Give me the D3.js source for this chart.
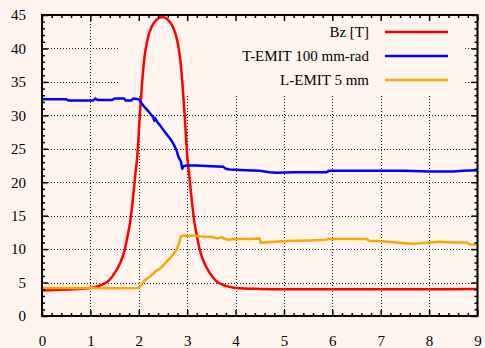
<!DOCTYPE html>
<html>
<head>
<meta charset="utf-8">
<script src="https://cdn.jsdelivr.net/npm/d3@7"></script>
<style>
  body { margin: 0; background: #fff5ee; }
  text { font-family: "Liberation Serif", "Times New Roman", Times, "DejaVu Serif", serif; }
</style>
</head>
<body>
<div id="chart"></div>
<script>
// data
const xTicks = [0, 1, 2, 3, 4, 5, 6, 7, 8, 9];
const yTicks = [0, 5, 10, 15, 20, 25, 30, 35, 40, 45];
const seriesNames = ["Bz [T]", "T-EMIT 100 mm-rad", "L-EMIT 5 mm"];
const seriesColors = ["#ff0000", "#0000ff", "#ffa500"];

const bzX = [0, 0.5, 0.97, 1.17, 1.37, 1.5, 1.62, 1.71, 1.77, 1.82, 1.87, 1.92, 1.97, 2.02, 2.07, 2.12, 2.17, 2.27, 2.37, 2.485,
  2.6, 2.7, 2.8, 2.85, 2.9, 2.95, 3.0, 3.05, 3.1, 3.15, 3.2, 3.26, 3.35, 3.47, 3.6, 3.8, 4.0, 4.5, 5, 6, 7, 8, 9];
const bzY = [3.8, 3.95, 4.15, 4.5, 5.2, 6.4, 8.0, 9.9, 12.0, 14.0, 17.0, 20.5, 24.0, 29.8, 35.0, 38.8, 41.0, 43.3, 44.3, 44.7,
  44.3, 43.3, 41.0, 38.8, 35.0, 29.8, 24.0, 20.5, 17.0, 14.0, 12.0, 9.9, 8.0, 6.4, 5.2, 4.5, 4.2, 4.05, 4.0, 4.0, 4.0, 4.0, 4.05];

const tEmitX = [0, 0.5, 0.55, 1.05, 1.1, 1.15, 1.2, 1.45, 1.5, 1.7, 1.73, 1.85, 1.88, 2.0, 2.05, 2.1, 2.2, 2.3, 2.32, 2.34, 2.38,
  2.44, 2.55, 2.65, 2.71, 2.78, 2.82, 2.87, 2.9, 2.92, 3.0, 3.2, 3.5, 3.75, 3.8, 3.88, 4.2, 4.5, 4.7, 4.85, 5.2, 5.6, 5.88, 5.93,
  6.5, 7.0, 7.5, 8.0, 8.5, 8.7, 9.0];
const tEmitY = [32.4, 32.4, 32.2, 32.2, 32.5, 32.3, 32.3, 32.3, 32.5, 32.5, 32.2, 32.2, 32.5, 32.4, 31.9, 31.4, 30.6, 29.7, 29.2, 29.6, 29.0,
  28.5, 27.4, 26.5, 25.8, 24.8, 23.8, 23.1, 22.0, 22.4, 22.5, 22.5, 22.4, 22.3, 22.0, 21.9, 21.8, 21.7, 21.5, 21.4, 21.5, 21.5, 21.5, 21.7,
  21.7, 21.7, 21.7, 21.6, 21.6, 21.7, 21.8];

const lEmitX = [0, 1, 1.5, 2.0, 2.03, 2.1, 2.15, 2.23, 2.3, 2.35, 2.44, 2.55, 2.64, 2.72, 2.78, 2.83, 2.87, 2.92, 3.16, 3.3, 3.54,
  3.62, 3.71, 3.78, 3.85, 4.0, 4.3, 4.5, 4.52, 4.6, 5.05, 5.5, 5.88, 5.9, 6.3, 6.71, 6.78, 6.98, 7.3, 7.67, 7.9, 8.0, 8.22, 8.5,
  8.77, 8.84, 9.0];
const lEmitY = [4.2, 4.2, 4.15, 4.2, 4.4, 5.2, 5.5, 5.9, 6.3, 6.7, 7.1, 7.9, 8.6, 9.3, 9.9, 10.8, 11.9, 12.0, 12.0, 11.9, 11.8,
  11.6, 11.8, 11.5, 11.4, 11.5, 11.5, 11.6, 10.9, 11.0, 11.2, 11.3, 11.4, 11.5, 11.5, 11.5, 11.2, 11.2, 11.0, 10.8, 10.9, 11.0, 11.1, 11.0,
  11.0, 10.7, 10.7];

const width = 485;
const height = 348;
const bg = "#fff5ee";
const serif = '"Liberation Serif", "Times New Roman", Times, "DejaVu Serif", serif';
const fontSize = "15px";

const svg = d3.select("#chart")
  .append("svg")
  .attr("width", width)
  .attr("height", height);

svg.append("rect")
  .attr("width", width)
  .attr("height", height)
  .attr("fill", bg);

const x = d3.scaleLinear().domain([0, 9]).range([42, 477.5]);
const y = d3.scaleLinear().domain([0, 45]).range([316, 15]);

// grid
const grid = svg.append("g")
  .attr("stroke", "#222")
  .attr("stroke-width", 1)
  .attr("stroke-dasharray", "1,2");
xTicks.slice(1, -1).forEach(t => {
  grid.append("line")
    .attr("x1", Math.round(x(t)) + 0.5).attr("x2", Math.round(x(t)) + 0.5)
    .attr("y1", y(45)).attr("y2", y(0));
});
yTicks.slice(1, -1).forEach(t => {
  grid.append("line")
    .attr("x1", x(0)).attr("x2", x(9))
    .attr("y1", Math.round(y(t)) + 0.5).attr("y2", Math.round(y(t)) + 0.5);
});

// opaque key box
svg.append("rect")
  .attr("x", 120)
  .attr("y", 15)
  .attr("width", 343)
  .attr("height", 79)
  .attr("fill", bg);

// curves
const series = [
  { xs: bzX, ys: bzY },
  { xs: tEmitX, ys: tEmitY },
  { xs: lEmitX, ys: lEmitY }
];
const line = d3.line()
  .x(d => x(d[0]))
  .y(d => y(d[1]));

[0, 1, 2].forEach(i => {
  const pts = series[i].xs.map((v, k) => [v, series[i].ys[k]]);
  svg.append("path")
    .datum(pts)
    .attr("fill", "none")
    .attr("stroke", seriesColors[i])
    .attr("stroke-width", 2.5)
    .attr("stroke-linejoin", "round")
    .attr("d", i === 0 ? line.curve(d3.curveMonotoneX)(pts) : line.curve(d3.curveLinear)(pts));
});

// axes
const xMinor = d3.range(0, 9.001, 0.2).filter(v => Math.abs(v - Math.round(v)) > 1e-6);
const yMinor = d3.range(0, 45.001, 1).filter(v => v % 5 !== 0);

function styleAxis(g) {
  g.select(".domain").remove();
  g.selectAll(".tick line").attr("stroke", "#000").attr("stroke-width", 1.5);
  g.selectAll("text")
    .attr("fill", "#000")
    .attr("font-family", null)
    .style("font-size", fontSize)
    .style("font-family", serif);
}
svg.attr("font-family", serif);

svg.append("g")
  .attr("transform", `translate(0,${y(0)})`)
  .call(d3.axisBottom(x).tickValues(xTicks).tickSizeInner(-6).tickSizeOuter(0).tickPadding(19).tickFormat(d3.format("d")))
  .call(styleAxis);
svg.append("g")
  .attr("transform", `translate(0,${y(0)})`)
  .call(d3.axisBottom(x).tickValues(xMinor).tickSizeInner(-3).tickSizeOuter(0).tickFormat(""))
  .call(styleAxis);
svg.append("g")
  .attr("transform", `translate(0,${y(45)})`)
  .call(d3.axisTop(x).tickValues(xTicks).tickSizeInner(-6).tickSizeOuter(0).tickFormat(""))
  .call(styleAxis);
svg.append("g")
  .attr("transform", `translate(0,${y(45)})`)
  .call(d3.axisTop(x).tickValues(xMinor).tickSizeInner(-3).tickSizeOuter(0).tickFormat(""))
  .call(styleAxis);

svg.append("g")
  .attr("transform", `translate(${x(0)},0)`)
  .call(d3.axisLeft(y).tickValues(yTicks).tickSizeInner(-6).tickSizeOuter(0).tickPadding(16).tickFormat(d3.format("d")))
  .call(styleAxis);
svg.append("g")
  .attr("transform", `translate(${x(0)},0)`)
  .call(d3.axisLeft(y).tickValues(yMinor).tickSizeInner(-3).tickSizeOuter(0).tickFormat(""))
  .call(styleAxis);
svg.append("g")
  .attr("transform", `translate(${x(9)},0)`)
  .call(d3.axisRight(y).tickValues(yTicks).tickSizeInner(-6).tickSizeOuter(0).tickFormat(""))
  .call(styleAxis);
svg.append("g")
  .attr("transform", `translate(${x(9)},0)`)
  .call(d3.axisRight(y).tickValues(yMinor).tickSizeInner(-3).tickSizeOuter(0).tickFormat(""))
  .call(styleAxis);

// frame
svg.append("rect")
  .attr("x", x(0))
  .attr("y", y(45))
  .attr("width", x(9) - x(0))
  .attr("height", y(0) - y(45))
  .attr("fill", "none")
  .attr("stroke", "#000")
  .attr("stroke-width", 2);

// legend
seriesNames.forEach((name, i) => {
  const ly = 32 + i * 24;
  svg.append("text")
    .attr("x", 369)
    .attr("y", ly)
    .attr("dy", "0.35em")
    .attr("text-anchor", "end")
    .style("font-size", fontSize)
    .style("font-family", serif)
    .style("fill", "#000")
    .text(name);
  svg.append("line")
    .attr("x1", 385)
    .attr("x2", 448)
    .attr("y1", ly)
    .attr("y2", ly)
    .attr("stroke", seriesColors[i])
    .attr("stroke-width", 2.5);
});
</script>
</body>
</html>
